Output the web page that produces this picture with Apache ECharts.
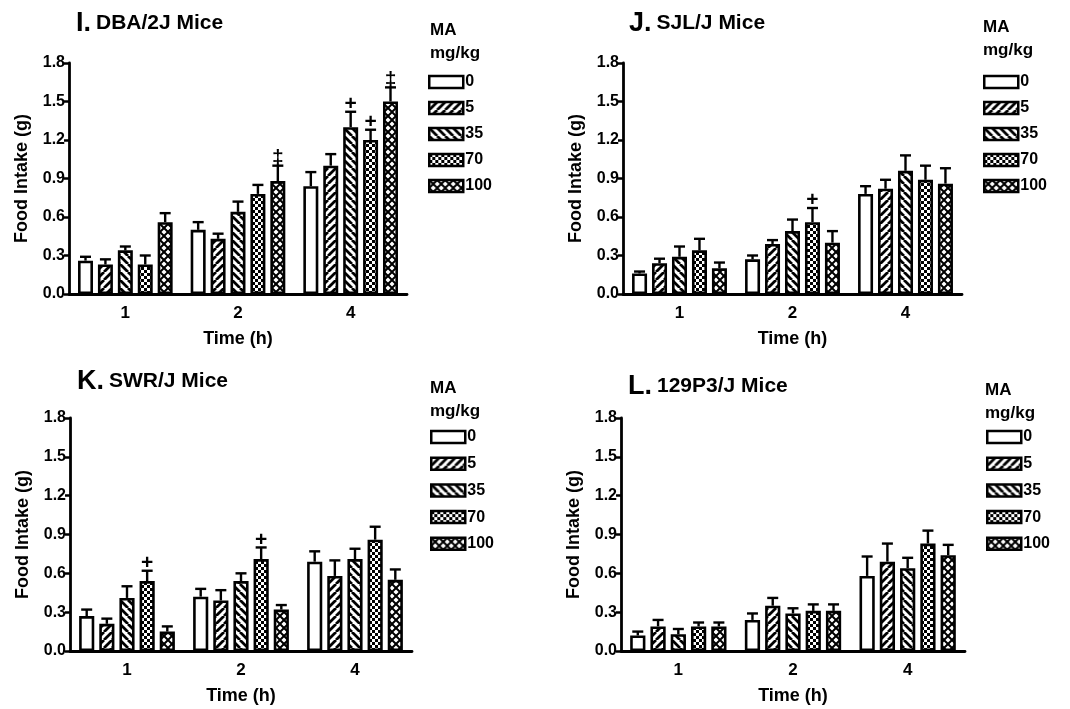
<!DOCTYPE html>
<html>
<head>
<meta charset="utf-8">
<script src="https://cdn.jsdelivr.net/npm/echarts@6/dist/echarts.min.js"></script>
<style>
  html, body { margin: 0; padding: 0; background: #fff; }
  #chart { width: 1070px; height: 709px; }
</style>
</head>
<body>
<div id="chart"></div>
<script>
// categories / doses
var times = ['1', '2', '4'];
var doses = ['0', '5', '35', '70', '100'];
var yTicks = [0, 0.3, 0.6, 0.9, 1.2, 1.5, 1.8];

// I. DBA/2J : mean per dose (over times), and SEM
var dbaMean = [[0.26, 0.50, 0.84], [0.23, 0.43, 1.00], [0.34, 0.64, 1.30], [0.23, 0.78, 1.20], [0.56, 0.88, 1.50]];
var dbaSem = [[0.03, 0.06, 0.11], [0.04, 0.04, 0.09], [0.03, 0.08, 0.12], [0.07, 0.07, 0.08], [0.07, 0.12, 0.11]];
var dbaMark = [['', '', ''], ['', '', ''], ['', '', '+'], ['', '', '+'], ['', '‡', '‡']];

// J. SJL/J
var sjlMean = [[0.16, 0.27, 0.78], [0.24, 0.39, 0.82], [0.29, 0.49, 0.96], [0.34, 0.56, 0.89], [0.20, 0.40, 0.86]];
var sjlSem = [[0.015, 0.03, 0.06], [0.035, 0.03, 0.07], [0.08, 0.09, 0.12], [0.09, 0.11, 0.11], [0.045, 0.09, 0.12]];
var sjlMark = [['', '', ''], ['', '', ''], ['', '', ''], ['', '+', ''], ['', '', '']];

// K. SWR/J
var swrMean = [[0.27, 0.42, 0.69], [0.21, 0.39, 0.58], [0.41, 0.54, 0.71], [0.54, 0.71, 0.86], [0.15, 0.32, 0.55]];
var swrSem = [[0.05, 0.06, 0.08], [0.04, 0.08, 0.12], [0.09, 0.06, 0.08], [0.08, 0.09, 0.10], [0.04, 0.035, 0.08]];
var swrMark = [['', '', ''], ['', '', ''], ['', '', ''], ['+', '+', ''], ['', '', '']];

// L. 129P3/J
var p3Mean = [[0.12, 0.24, 0.58], [0.19, 0.35, 0.69], [0.13, 0.29, 0.64], [0.19, 0.31, 0.83], [0.19, 0.31, 0.74]];
var p3Sem = [[0.03, 0.05, 0.15], [0.05, 0.06, 0.14], [0.04, 0.04, 0.08], [0.03, 0.05, 0.10], [0.03, 0.05, 0.08]];
var p3Mark = [['', '', ''], ['', '', ''], ['', '', ''], ['', '', ''], ['', '', '']];

var FONT = 'Liberation Sans';

function tile(size, draw) {
    var c = document.createElement('canvas');
    c.width = size; c.height = size;
    var ctx = c.getContext('2d');
    ctx.fillStyle = '#fff';
    ctx.fillRect(0, 0, size, size);
    ctx.strokeStyle = '#000';
    ctx.fillStyle = '#000';
    draw(ctx, size);
    return { image: c, repeat: 'repeat' };
}

function diag(ctx, s, dir) {
    ctx.beginPath();
    for (var k = -1; k <= 1; k++) {
        if (dir > 0) {
            ctx.moveTo(k * s, s); ctx.lineTo(k * s + s, 0);
        } else {
            ctx.moveTo(k * s, 0); ctx.lineTo(k * s + s, s);
        }
    }
    ctx.stroke();
}

var fills = [
    '#fff',
    tile(8, function (ctx, s) { ctx.lineWidth = 2.8; diag(ctx, s, 1); }),
    tile(8, function (ctx, s) { ctx.lineWidth = 2.8; diag(ctx, s, -1); }),
    tile(6, function (ctx, s) {
        ctx.fillRect(0, 0, 3, 3);
        ctx.fillRect(3, 3, 3, 3);
    }),
    tile(8, function (ctx, s) { ctx.lineWidth = 2; diag(ctx, s, 1); diag(ctx, s, -1); })
];

var panels = [
    { letter: 'I.', name: 'DBA/2J Mice', mean: dbaMean, sem: dbaSem, mark: dbaMark,
      grid: { left: 69, top: 63, width: 338, height: 231 }, title: [76, 10], ma: [430, 19], legend: [428, 74, 26] },
    { letter: 'J.', name: 'SJL/J Mice', mean: sjlMean, sem: sjlSem, mark: sjlMark,
      grid: { left: 623, top: 63, width: 339, height: 231 }, title: [629, 10], ma: [983, 16], legend: [983, 74, 26] },
    { letter: 'K.', name: 'SWR/J Mice', mean: swrMean, sem: swrSem, mark: swrMark,
      grid: { left: 70, top: 418, width: 342, height: 233 }, title: [77, 368], ma: [430, 377], legend: [430, 429, 26.7] },
    { letter: 'L.', name: '129P3/J Mice', mean: p3Mean, sem: p3Sem, mark: p3Mark,
      grid: { left: 621, top: 418, width: 344, height: 233 }, title: [628, 373], ma: [985, 379], legend: [986, 429, 26.7] }
];

var CAT_GAP = 0.16, BAR_GAP = 0.33;
var LEG_H = 12, LEG_FONT = 16;

var option = {
    backgroundColor: '#fff',
    animation: false,
    title: [], legend: [], grid: [], xAxis: [], yAxis: [], series: []
};

panels.forEach(function (p, pi) {
    option.grid.push(p.grid);
    option.title.push({
        left: p.title[0], top: p.title[1], padding: 0,
        text: '{a|' + p.letter + '} {b|' + p.name + '}',
        textStyle: {
            rich: {
                a: { fontFamily: FONT, fontWeight: 'bold', fontSize: 27, color: '#000' },
                b: { fontFamily: FONT, fontWeight: 'bold', fontSize: 21, color: '#000' }
            }
        }
    });
    option.title.push({
        left: p.ma[0], top: p.ma[1], padding: 0,
        text: 'MA\nmg/kg',
        textStyle: { fontFamily: FONT, fontWeight: 'bold', fontSize: 17, color: '#000', lineHeight: 23 }
    });
    option.legend.push({
        orient: 'vertical', left: p.legend[0], top: p.legend[1], padding: 0,
        itemWidth: 34, itemHeight: LEG_H, itemGap: p.legend[2] - LEG_FONT,
        selectedMode: false, icon: 'rect',
        data: doses,
        itemStyle: { borderColor: '#000', borderWidth: 2.5 },
        textStyle: { fontFamily: FONT, fontWeight: 'bold', fontSize: LEG_FONT, lineHeight: LEG_FONT,
            color: '#000', padding: [0, 0, 0, -3] }
    });
    option.xAxis.push({
        type: 'category', gridIndex: pi, data: times,
        name: 'Time (h)', nameLocation: 'middle', nameGap: 36,
        nameTextStyle: { fontFamily: FONT, fontWeight: 'bold', fontSize: 18, color: '#000' },
        axisLine: { lineStyle: { color: '#000', width: 2.8 } },
        axisTick: { alignWithLabel: true, length: 7, lineStyle: { width: 2.5, color: '#000' } },
        axisLabel: { fontFamily: FONT, fontWeight: 'bold', fontSize: 17, color: '#000', margin: 11 }
    });
    option.yAxis.push({
        type: 'value', gridIndex: pi, min: yTicks[0], max: yTicks[yTicks.length - 1], interval: 0.3,
        name: 'Food Intake (g)', nameLocation: 'middle', nameGap: 38,
        nameTextStyle: { fontFamily: FONT, fontWeight: 'bold', fontSize: 18, color: '#000' },
        splitLine: { show: false },
        axisLine: { show: true, lineStyle: { color: '#000', width: 2.8 } },
        axisTick: { show: true, length: 5, lineStyle: { width: 2.5, color: '#000' } },
        axisLabel: { fontFamily: FONT, fontWeight: 'bold', fontSize: 16, color: '#000', margin: 4,
            formatter: function (v) { return v.toFixed(1); } }
    });

    doses.forEach(function (d, di) {
        option.series.push({
            type: 'bar', name: d, xAxisIndex: pi, yAxisIndex: pi,
            data: p.mean[di],
            barCategoryGap: (CAT_GAP * 100) + '%', barGap: (BAR_GAP * 100) + '%',
            itemStyle: { color: fills[di], borderColor: '#000', borderWidth: 2.6 },
            z: 3
        });
    });

    // error bars (upper half) + significance marks
    var errData = [];
    doses.forEach(function (d, di) {
        times.forEach(function (t, ti) {
            errData.push([ti, p.mean[di][ti], p.mean[di][ti] + p.sem[di][ti], di]);
        });
    });
    option.series.push({
        type: 'custom', xAxisIndex: pi, yAxisIndex: pi, z: 4,
        data: errData,
        encode: { x: 0, y: [1, 2] },
        renderItem: function (params, api) {
            var ti = api.value(0), di = api.value(3);
            var band = api.size([1, 0])[0];
            var bw = band * (1 - CAT_GAP) / (doses.length + (doses.length - 1) * BAR_GAP);
            var total = bw * doses.length + bw * BAR_GAP * (doses.length - 1);
            var off = -total / 2 + di * bw * (1 + BAR_GAP) + bw / 2;
            var lo = api.coord([ti, api.value(1)]);
            var hi = api.coord([ti, api.value(2)]);
            var x = lo[0] + off;
            var st = { stroke: '#000', lineWidth: 2.4 };
            var children = [
                { type: 'line', shape: { x1: x, y1: lo[1], x2: x, y2: hi[1] }, style: st },
                { type: 'line', shape: { x1: x - 5.5, y1: hi[1], x2: x + 5.5, y2: hi[1] }, style: st }
            ];
            var m = p.mark[di][ti];
            if (m) {
                children.push({
                    type: 'text',
                    style: { text: m, x: x, y: hi[1] + 3, align: 'center', verticalAlign: 'bottom',
                        fill: '#000', font: 'bold 21px "' + FONT + '"' }
                });
            }
            return { type: 'group', children: children };
        }
    });
});

var chart = echarts.init(document.getElementById('chart'));
chart.setOption(option);
window.addEventListener('resize', function () { chart.resize(); });
</script>
</body>
</html>
